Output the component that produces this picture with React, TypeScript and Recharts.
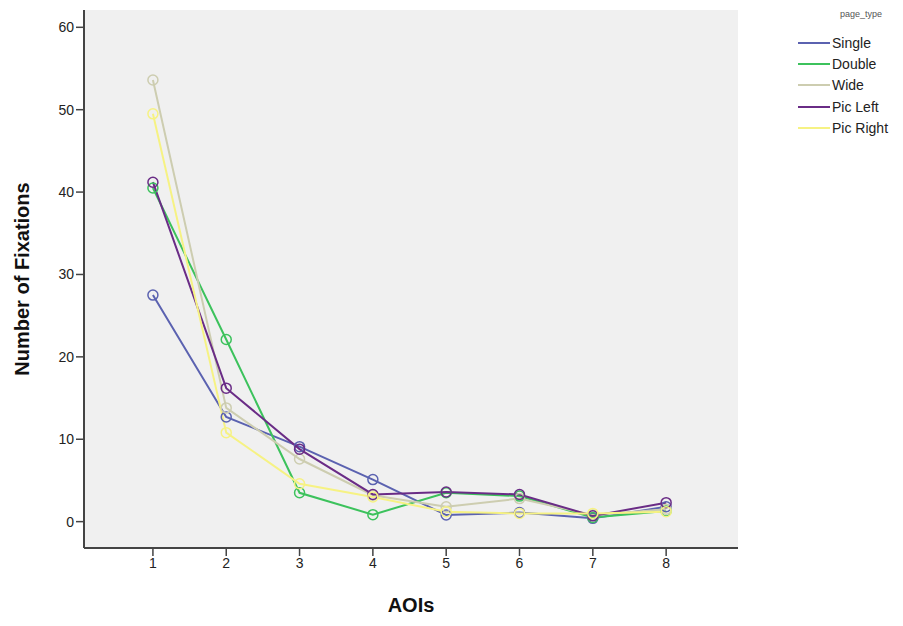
import React from 'react';
import { LineChart, Line, XAxis, YAxis, CartesianGrid, Label } from 'recharts';

const aois = [1, 2, 3, 4, 5, 6, 7, 8];
const single = [27.5, 12.7, 9.1, 5.1, 0.8, 1.1, 0.4, 1.8];
const double = [40.5, 22.1, 3.5, 0.85, 3.5, 3.1, 0.5, 1.3];
const wide = [53.6, 13.8, 7.6, 3.2, 1.8, 2.8, 0.8, 1.5];
const picLeft = [41.2, 16.2, 8.8, 3.3, 3.6, 3.3, 0.7, 2.3];
const picRight = [49.5, 10.8, 4.6, 3.0, 1.2, 1.0, 1.0, 1.2];
const yTicks = [0, 10, 20, 30, 40, 50, 60];

const series = [
  { key: 'Single', values: single, color: '#5b62b0' },
  { key: 'Double', values: double, color: '#3cc25c' },
  { key: 'Wide', values: wide, color: '#cdcdb0' },
  { key: 'Pic Left', values: picLeft, color: '#6a2c86' },
  { key: 'Pic Right', values: picRight, color: '#f6f283' },
];

const data = aois.map((a, i) => {
  const row: Record<string, number> = { aoi: a };
  series.forEach((s) => { row[s.key] = s.values[i]; });
  return row;
});

const font = '"Liberation Sans", Arial, sans-serif';

function LegendBox() {
  return (
    <div style={{ position: 'absolute', left: 798, top: 9, fontFamily: font, color: '#222' }}>
      <div style={{ fontSize: 9, color: '#555', marginLeft: 42, marginBottom: 13 }}>page_type</div>
      {series.map((s) => (
        <div key={s.key} style={{ display: 'flex', alignItems: 'center', height: 21.3 }}>
          <div style={{ width: 32, height: 2, background: s.color, marginRight: 2 }} />
          <span style={{ fontSize: 14 }}>{s.key}</span>
        </div>
      ))}
    </div>
  );
}

export default function App() {
  return (
    <div style={{ position: 'fixed', left: 0, top: 0, width: 903, height: 626, background: '#fff' }}>
      <LineChart width={903} height={626} data={data} margin={{ top: 10, right: 165, bottom: 8, left: 0 }}>
        <CartesianGrid horizontal={false} vertical={false} fill="#f0f0f0" />
        <XAxis
          dataKey="aoi"
          type="number"
          domain={[0.06, 8.98]}
          ticks={aois}
          height={70}
          axisLine={{ stroke: '#444', strokeWidth: 2 }}
          tickLine={{ stroke: '#444', strokeWidth: 1.5 }}
          tickSize={8}
          tick={{ fontSize: 14, fill: '#222', fontFamily: font }}
        >
          <Label value="AOIs" position="insideBottom" offset={6} style={{ fontSize: 20, fontWeight: 'bold', fill: '#111', fontFamily: font }} />
        </XAxis>
        <YAxis
          type="number"
          domain={[-3.2, 62.1]}
          ticks={yTicks}
          width={84}
          axisLine={{ stroke: '#444', strokeWidth: 2 }}
          tickLine={{ stroke: '#444', strokeWidth: 1.5 }}
          tickSize={8}
          tick={{ fontSize: 14, fill: '#222', fontFamily: font }}
        >
          <Label value="Number of Fixations" angle={-90} position="insideLeft" offset={22} style={{ textAnchor: 'middle', fontSize: 20, fontWeight: 'bold', fill: '#111', fontFamily: font }} />
        </YAxis>
        {series.map((s) => (
          <Line
            key={s.key}
            dataKey={s.key}
            stroke={s.color}
            strokeWidth={2}
            dot={{ r: 5, stroke: s.color, strokeWidth: 1.5, fill: 'none' }}
            isAnimationActive={false}
          />
        ))}
      </LineChart>
      <LegendBox />
    </div>
  );
}
